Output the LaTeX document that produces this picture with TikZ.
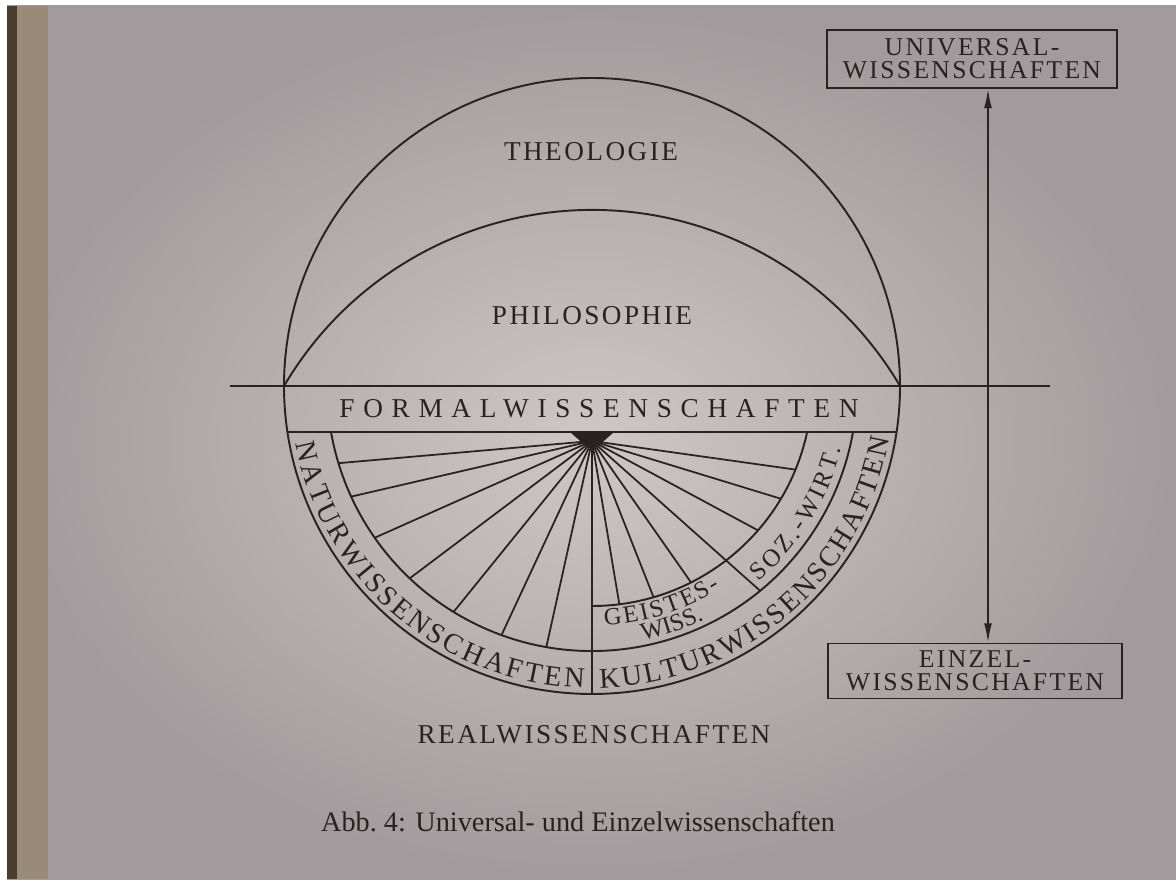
\documentclass[tikz,border=0pt]{standalone}
\usepackage{fontspec}
\setmainfont{Liberation Serif}
\newfontfamily\wisscaps[LetterSpace=9]{Liberation Serif}
\newfontfamily\wisswide[LetterSpace=32]{Liberation Serif}
\usetikzlibrary{arrows.meta,decorations.text,calc}
\definecolor{WissInk}{HTML}{2A2222}
\definecolor{WissPaperLight}{HTML}{CFC7C5}
\definecolor{WissPaperDark}{HTML}{A39A9D}
\definecolor{WissSpine}{HTML}{4B3D2E}
\definecolor{WissPageEdge}{HTML}{9A8B78}
\newcommand{\wissarc}{\color{WissInk}\fontsize{16.3}{18}\selectfont}
\newcommand{\wisssmall}{\color{WissInk}\fontsize{14}{15}\selectfont}
\newcommand{\wissmid}{\color{WissInk}\fontsize{14.2}{16}\selectfont}

\begin{document}
\begin{tikzpicture}[x=0.02cm,y=0.02cm,
    ink/.style={WissInk,line width=1.1pt},
    ray/.style={WissInk,line width=1pt},
    caplabel/.style={text=WissInk,inner sep=0pt,font=\wisscaps\fontsize{15.5}{18}\selectfont},
    wissbox/.style={draw=WissInk,line width=1pt,text=WissInk,align=center,inner sep=2pt,
      font=\wisscaps\fontsize{14.6}{12.9}\selectfont}]
    \useasboundingbox (0,0) rectangle (1176,883);
    \fill[white] (0,0) rectangle (1176,883);
    \shade[inner color=WissPaperLight,outer color=WissPaperDark] (7,4) rectangle (1176,877);
    \fill[WissSpine] (7,4) rectangle (17,877);
    \fill[WissPageEdge] (17,4) rectangle (48,877);

    \coordinate (C) at (592,497);
    \coordinate (H) at (592,442);
    \coordinate (hl) at (230,497);
    \coordinate (hr) at (1050,497);
    \coordinate (ax) at (988,500);

    \draw[ink] (C) circle[radius=308];
    \draw[ink] ($(C)+(-308,0)$) arc[start angle=149.5,end angle=30.5,radius=357.5];
    \draw[ink] (hl) -- (hr);
    \draw[ink] ($(C)+(188.6:308)$) -- ($(C)+(351.4:308)$);
    \draw[ink] ($(C)+(190:265)$) arc[start angle=190,end angle=350,radius=265];
    \draw[ink] ($(C)+(270:220)$) arc[start angle=270,end angle=347.9,radius=220];

    \foreach \a/\r in {185/2.65,193/2.65,204/2.65,217/2.65,231/2.65,245/2.65,257.5/2.65,270/3.08,
      -8/2.2,-17/2.2,-28.3/2.2,-41.7/2.65,-55/2.2,-68.5/2.2,-80.5/2.2} {
      \pgfmathsetmacro\t{100*(0.55*sin(\a)+sqrt(0.3025*sin(\a)^2-0.3025+\r^2))}
      \draw[ray] (H) -- ++(\a:\t);
    }
    \fill[WissInk] ($(H)+(-22,9)$) -- ($(H)+(22,9)$) -- ($(H)+(5,-6)$) -- ($(H)+(-5,-6)$) -- cycle;

    \node[caplabel] (theo) at (591,731) {THEOLOGIE};
    \node[caplabel] (philo) at (592,567) {PHILOSOPHIE};
    \node[caplabel,font=\wisswide\fontsize{15.5}{18}\selectfont] (formal) at (599,474) {FORMALWISSENSCHAFTEN};
    \node[caplabel] (real) at (594,148) {REALWISSENSCHAFTEN};
    \node[text=WissInk,font=\fontsize{16.1}{18}\selectfont] (caption) at (578,61) {Abb.\ 4: Universal- und Einzelwissenschaften};

    \path[decorate,decoration={text along path,text align={fit to path},
      text={|\wissarc|NATURWISSENSCHAFTEN}}]
      ($(C)+(191:302)$) arc[start angle=191,end angle=268.5,radius=302];
    \path[decorate,decoration={text along path,text align={fit to path},
      text={|\wissarc|KULTURWISSENSCHAFTEN}}]
      ($(C)+(271.5:302)$) arc[start angle=271.5,end angle=350,radius=302];
    \path[decorate,decoration={text along path,text align={fit to path},
      text={|\wisssmall|GEISTES-}}]
      ($(C)+(273:240)$) arc[start angle=273,end angle=302.5,radius=240];
    \path[decorate,decoration={text along path,text align={center},
      text={|\wisssmall|WISS.}}]
      ($(C)+(273:259)$) arc[start angle=273,end angle=304,radius=259];
    \path[decorate,decoration={text along path,text align={fit to path},
      text={|\wissmid|SOZ.-WIRT.}}]
      ($(C)+(310.5:257)$) arc[start angle=310.5,end angle=346,radius=257];

    \node[wissbox,minimum width=5.8cm,minimum height=1.16cm] (univ) at (972,824) {UNIVERSAL-\\WISSENSCHAFTEN};
    \node[wissbox,minimum width=5.88cm,minimum height=1.1cm] (einzel) at (975,212) {EINZEL-\\WISSENSCHAFTEN};
    \draw[ink,line width=1pt,{Latex[length=11pt,width=4.5pt]}-{Latex[length=11pt,width=4.5pt]}]
      (univ.south -| ax) -- (einzel.north -| ax);
  \end{tikzpicture}
\end{document}
